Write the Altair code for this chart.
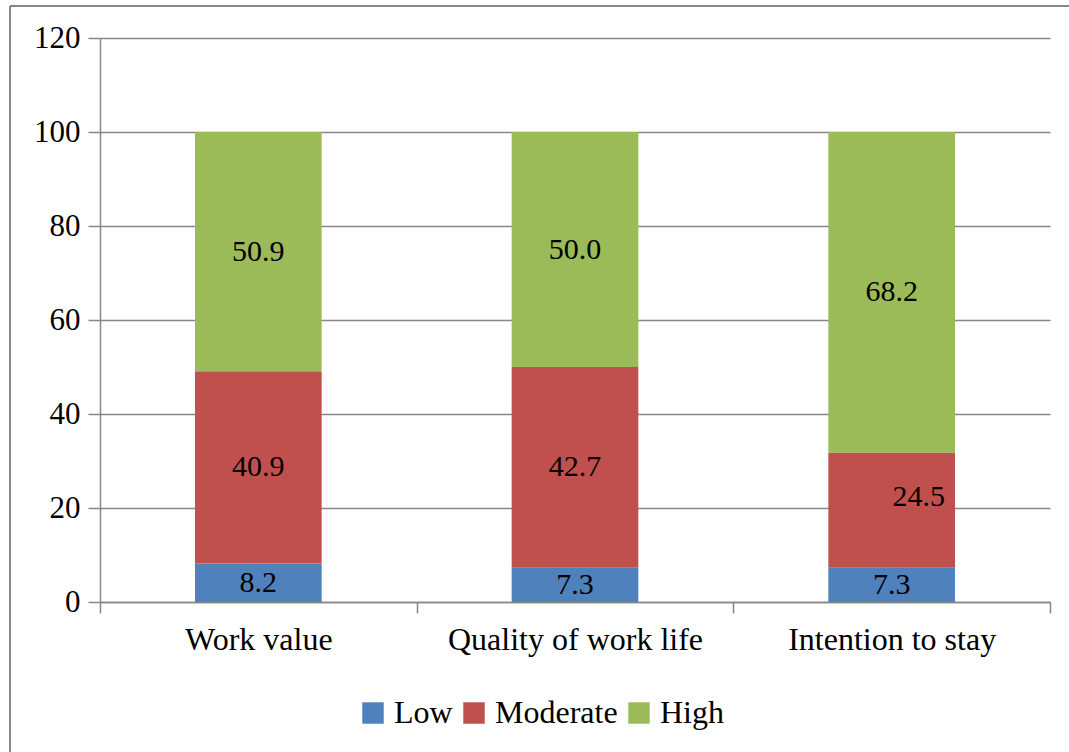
import altair as alt
import pandas as pd

# Survey levels per measured variable (percent)
categories = ["Work value", "Quality of work life", "Intention to stay"]
levels = ["Low", "Moderate", "High"]
low = [8.2, 7.3, 7.3]
moderate = [40.9, 42.7, 24.5]
high = [50.9, 50.0, 68.2]
colors = ["#4F81BD", "#C0504D", "#9BBB59"]
y_ticks = [0, 20, 40, 60, 80, 100, 120]

rows = []
for i, cat in enumerate(categories):
    for j, (lv, vals) in enumerate(zip(levels, [low, moderate, high])):
        rows.append({"category": cat, "level": lv, "order": j, "value": vals[i]})
df = pd.DataFrame(rows)

FONT = "Liberation Serif"
GRAY = "#878787"

# Full-width bands so category ticks fall on the band boundaries
x_enc = alt.X(
    "category:N",
    sort=categories,
    scale=alt.Scale(paddingInner=0, paddingOuter=0),
    axis=alt.Axis(
        title=None, labelAngle=0, grid=False, tickBand="extent",
        tickSize=11, labelPadding=11, labelLimit=0, labelFontSize=32,
    ),
)

base = alt.Chart(df).transform_stack(
    stack="value", groupby=["category"], as_=["y0", "y1"],
    sort=[alt.SortField("order", order="ascending")],
).transform_calculate(mid="(datum.y0 + datum.y1) / 2")

bars = base.mark_bar(width=alt.RelativeBandSize(0.4)).encode(
    x=x_enc,
    y=alt.Y(
        "y0:Q",
        scale=alt.Scale(domain=[0, 120], nice=False),
        axis=alt.Axis(title=None, values=y_ticks, grid=True, tickSize=12,
                      labelPadding=8, labelFontSize=31),
    ),
    y2="y1:Q",
    color=alt.Color(
        "level:N",
        sort=levels,
        scale=alt.Scale(domain=levels, range=colors),
        legend=alt.Legend(
            title=None, orient="none", direction="horizontal",
            legendX=257, legendY=659,
            symbolType="square", symbolSize=460, symbolStrokeWidth=0,
            symbolOpacity=1, labelFont=FONT, labelFontSize=32,
            labelColor="black", labelOffset=5, columnPadding=5,
        ),
    ),
)

shifted = "datum.category == 'Intention to stay' && datum.level == 'Moderate'"

label_enc = dict(
    x=alt.X("category:N", sort=categories),
    y=alt.Y("mid:Q"),
    text=alt.Text("value:Q", format=".1f"),
)
labels = base.transform_filter("!(" + shifted + ")").mark_text(
    font=FONT, fontSize=30, color="black"
).encode(**label_enc)
# This one label sits right of centre and slightly raised
labels_shifted = base.transform_filter(shifted).mark_text(
    font=FONT, fontSize=30, color="black", dx=27, dy=-13
).encode(**label_enc)

# Outer frame of the figure
frame_src = alt.Chart(pd.DataFrame({"k": [0]}))
frame_left = frame_src.mark_rule(color=GRAY, strokeWidth=2).encode(
    x=alt.value(-90), y=alt.value(-32), y2=alt.value(800)
)
frame_top = frame_src.mark_rule(color=GRAY, strokeWidth=2).encode(
    x=alt.value(-90), x2=alt.value(1100), y=alt.value(-32)
)

chart = alt.layer(bars, labels, labels_shifted, frame_left, frame_top).properties(
    width=950, height=564,
    autosize=alt.AutoSizeParams(type="none"),
    padding={"left": 100, "top": 38, "right": 19, "bottom": 150},
    background="white",
).configure_view(stroke=None).configure_axis(
    labelFont=FONT, labelColor="black",
    domainColor=GRAY, tickColor=GRAY, gridColor=GRAY,
    domainWidth=1.5, tickWidth=1.5, gridWidth=1.5,
)

chart.save("out.html", embed_options={"renderer": "svg", "actions": False})
